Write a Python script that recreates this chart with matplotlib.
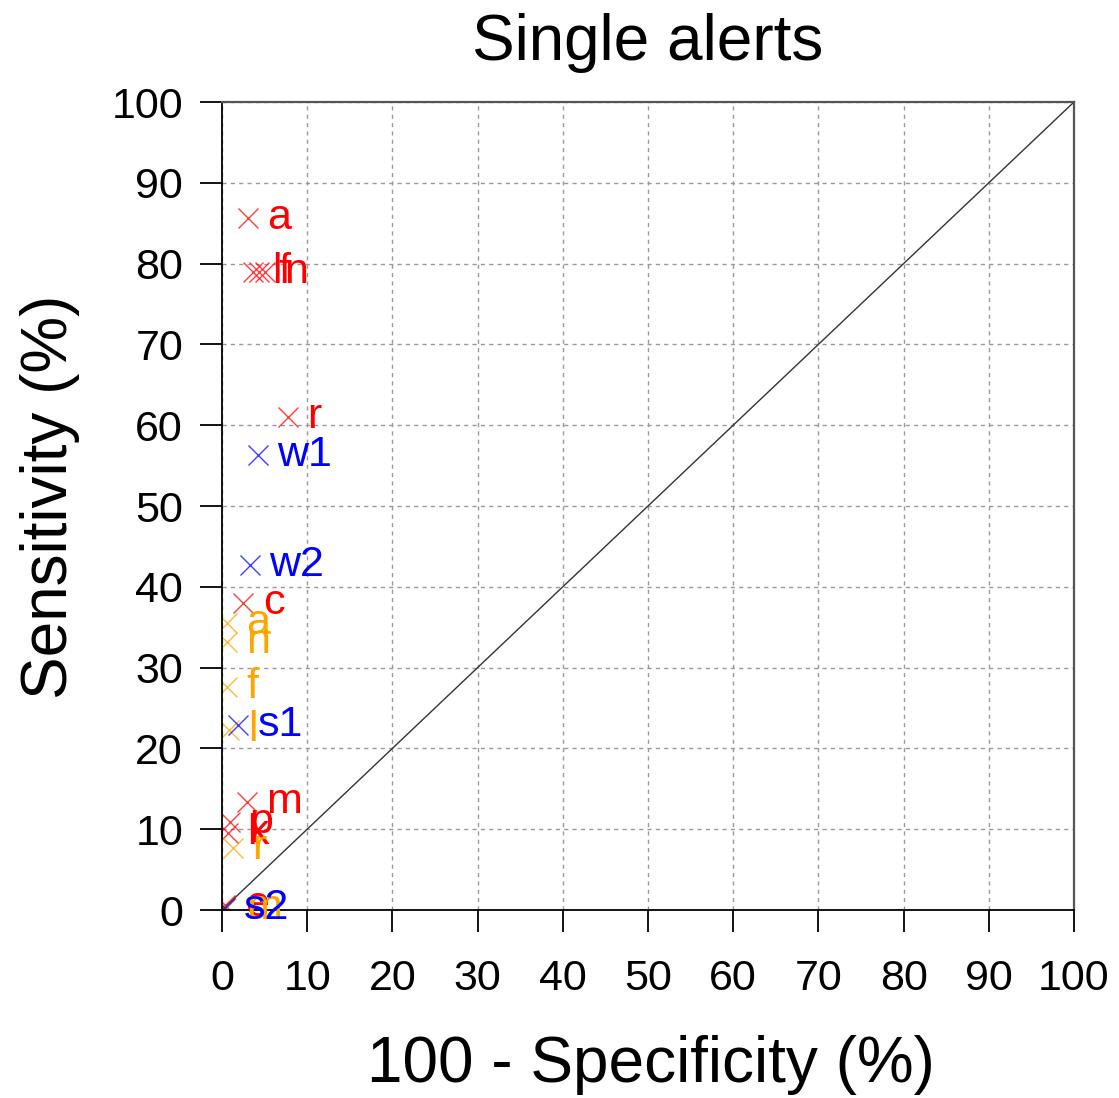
import matplotlib
matplotlib.use("Agg")
import matplotlib.pyplot as plt

plt.rcParams["font.family"] = ["Liberation Sans", "DejaVu Sans"]

# ------------------------------------------------------------
# data (100 - specificity, sensitivity)
# ------------------------------------------------------------
red_labels = ["a", "l", "f", "n", "r", "c", "m", "p", "k", "e"]
red_x = [3.0, 3.6, 4.3, 5.0, 7.7, 2.5, 2.9, 0.9, 0.7, 0.4]
red_y = [85.6, 79.0, 79.0, 79.0, 61.0, 38.0, 13.4, 10.9, 9.5, 0.6]

orange_labels = ["a", "n", "f", "l", "r", "m"]
orange_x = [0.6, 0.6, 0.6, 0.8, 1.3, 0.5]
orange_y = [35.5, 33.2, 27.6, 22.3, 7.7, 0.2]

blue_labels = ["w1", "w2", "s1", "s2"]
blue_x = [4.2, 3.3, 1.9, 0.3]
blue_y = [56.3, 42.7, 22.9, 0.3]

ticks = list(range(0, 101, 10))

fig = plt.figure(figsize=(11.19, 10.98), dpi=100)
ax = fig.add_axes([222 / 1119, 1 - 910 / 1098, (1074 - 222) / 1119, (910 - 102) / 1098])

ax.set_xlim(0, 100)
ax.set_ylim(0, 100)
ax.set_xticks(ticks)
ax.set_yticks(ticks)
ax.grid(True, linestyle=(0, (3, 3)), color="#999999", linewidth=1)
ax.set_axisbelow(True)

# chance diagonal
ax.plot([0, 100], [0, 100], color="#333333", linewidth=1.0)

groups = [
    (red_labels, red_x, red_y, "#ff0000"),
    (orange_labels, orange_x, orange_y, "#ffa500"),
    (blue_labels, blue_x, blue_y, "#0000ff"),
]
for labels, xs, ys, col in groups:
    ax.plot(xs, ys, linestyle="none", marker="x", markersize=15,
            markeredgewidth=1.0, color=col, alpha=0.75)
    for lab, xv, yv in zip(labels, xs, ys):
        ax.annotate(lab, (xv, yv), xytext=(14, 0), textcoords="offset points",
                    va="center", ha="left", color=col, fontsize=31)

for side in ["left", "bottom"]:
    ax.spines[side].set_color("black")
    ax.spines[side].set_linewidth(1.3)
for side in ["top", "right"]:
    ax.spines[side].set_color("#555555")
    ax.spines[side].set_linewidth(1.6)

ax.tick_params(axis="x", direction="out", length=16, width=1.3, pad=19, labelsize=31)
ax.tick_params(axis="y", direction="out", length=16, width=1.3, pad=12, labelsize=31)

ax.set_title("Single alerts", fontsize=46, pad=30)
fig.text(50 / 1119, 1 - 497 / 1098, "Sensitivity (%)", rotation=90,
         ha="center", va="center", fontsize=46)
fig.text(651 / 1119, 1 - 1065 / 1098, "100 - Specificity (%)",
         ha="center", va="center", fontsize=46)

plt.savefig("out.png", dpi=100)
plt.close()
